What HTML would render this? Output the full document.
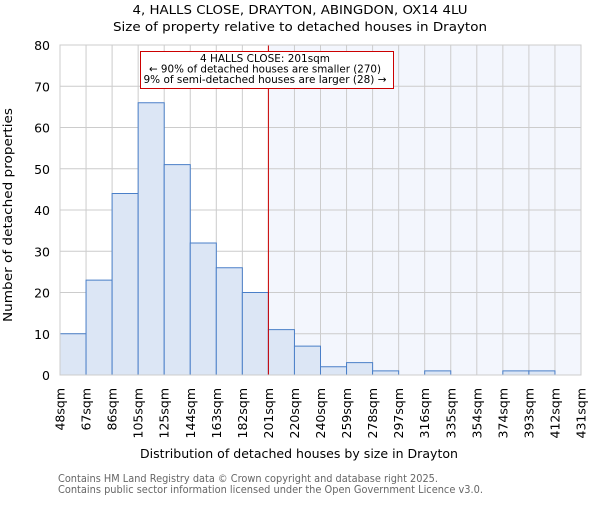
<!DOCTYPE html>
<html><head><meta charset="utf-8"><style>body{margin:0;background:#fff}svg{font-family:"DejaVu Sans","Liberation Sans",sans-serif}</style></head>
<body>
<svg id="c" width="600" height="500">
<text x="300" y="14" text-anchor="middle" font-size="12" textLength="335" lengthAdjust="spacingAndGlyphs">4, HALLS CLOSE, DRAYTON, ABINGDON, OX14 4LU</text>
<text x="300" y="31" text-anchor="middle" font-size="12.5" textLength="374" lengthAdjust="spacingAndGlyphs">Size of property relative to detached houses in Drayton</text>
<g id="plot"></g>
<text x="299" y="458" text-anchor="middle" font-size="12.5" textLength="318" lengthAdjust="spacingAndGlyphs">Distribution of detached houses by size in Drayton</text>
<text transform="translate(12,215) rotate(-90)" text-anchor="middle" font-size="12.5" textLength="214" lengthAdjust="spacingAndGlyphs">Number of detached properties</text>
<text x="58" y="482" font-size="10.5" fill="#666" textLength="380" lengthAdjust="spacingAndGlyphs">Contains HM Land Registry data © Crown copyright and database right 2025.</text>
<text x="58" y="493" font-size="10.5" fill="#666" textLength="425" lengthAdjust="spacingAndGlyphs">Contains public sector information licensed under the Open Government Licence v3.0.</text>
</svg>
<script>
const binLabels=["48sqm","67sqm","86sqm","105sqm","125sqm","144sqm","163sqm","182sqm","201sqm","220sqm","240sqm","259sqm","278sqm","297sqm","316sqm","335sqm","354sqm","374sqm","393sqm","412sqm","431sqm"];
const counts=[10,23,44,66,51,32,26,20,11,7,2,3,1,0,1,0,0,1,1,0];
const yTicks=[0,10,20,30,40,50,60,70,80];
const markerIndex=8;
const NS="http://www.w3.org/2000/svg";
const L=60,R=581,T=45,B=375,yMax=80;
const nb=counts.length,bw=(R-L)/nb;
const X=i=>L+i*bw, Y=v=>B-(B-T)*v/yMax;
const g=document.getElementById('plot');
function mk(t,a){const e=document.createElementNS(NS,t);for(const k in a)e.setAttribute(k,a[k]);g.appendChild(e);return e;}
let e;
e=mk('rect',{x:X(markerIndex),y:T,width:R-X(markerIndex),height:B-T,fill:'#f3f6fd'});


yTicks.forEach(v=>{e=mk('line',{x1:L,x2:R,y1:Y(v),y2:Y(v),stroke:'#ccc','stroke-width':1});


e=mk('text',{x:L-10,y:Y(v)+5,'text-anchor':'end','font-size':12.5});e.textContent=v;

});
binLabels.forEach((s,i)=>{e=mk('line',{x1:X(i),x2:X(i),y1:T,y2:B,stroke:'#ccc','stroke-width':1});


e=mk('text',{transform:`translate(${X(i)+4.5},${B+13}) rotate(-90)`,'text-anchor':'end','font-size':12.5});e.textContent=s;

});
counts.forEach((v,i)=>{if(v<=0)return;e=mk('rect',{x:X(i),y:Y(v),width:bw,height:B-Y(v),fill:'#dce6f5',stroke:'#4a7fc8','stroke-width':1});

});
e=mk('line',{x1:X(markerIndex),x2:X(markerIndex),y1:T,y2:B,stroke:'#cc0000','stroke-width':1});


e=mk('rect',{x:140.5,y:51.5,width:253,height:37,fill:'#fff',stroke:'#cc0000','stroke-width':1});


const annLines=["4 HALLS CLOSE: 201sqm","← 90% of detached houses are smaller (270)","9% of semi-detached houses are larger (28) →"];
const annLens=[130,232,243];
annLines.forEach((s,i)=>{e=mk('text',{x:265,y:62+i*10.5,'text-anchor':'middle','font-size':10.5,textLength:annLens[i],lengthAdjust:'spacingAndGlyphs'});e.textContent=s;

});
e=mk('rect',{x:L,y:T,width:R-L,height:B-T,fill:'none',stroke:'#ccc'});


</script>
</body></html>
